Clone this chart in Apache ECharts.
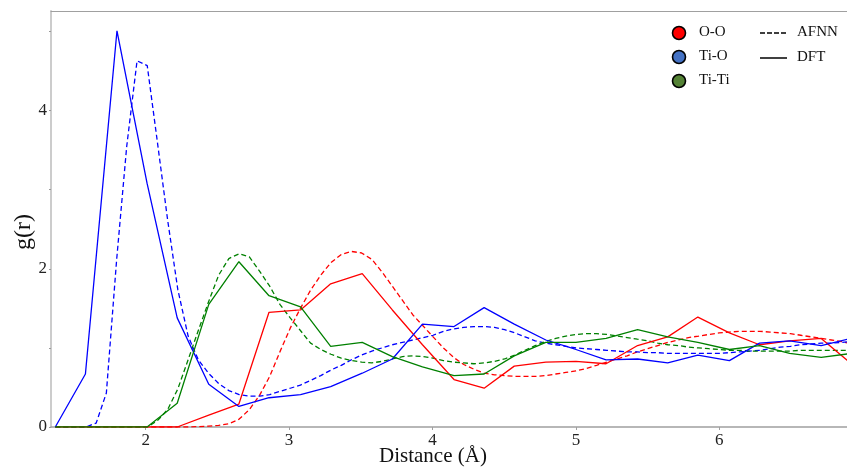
<!DOCTYPE html>
<html>
<head>
<meta charset="utf-8">
<script src="https://cdn.jsdelivr.net/npm/echarts@6/dist/echarts.min.js"></script>
<style>
html,body{margin:0;padding:0;background:#fff;}
#chart{width:847px;height:469px;}
</style>
</head>
<body>
<div id="chart"></div>
<script>
// ---- DATA ----
const distDFT = [1.37,1.58,1.80,2.01,2.22,2.44,2.65,2.86,3.08,3.29,3.51,3.72,3.93,4.15,4.36,4.57,4.79,5.00,5.21,5.43,5.64,5.85,6.07,6.28,6.49,6.71,6.92];
const OO_DFT   = [0,0,0,0,0,0.15,0.29,1.45,1.48,1.81,1.94,1.48,1.04,0.60,0.49,0.77,0.82,0.83,0.80,1.03,1.14,1.39,1.19,1.04,1.09,1.12,0.80];
const TiO_DFT  = [0,0.67,5.01,3.08,1.38,0.54,0.26,0.37,0.41,0.51,0.68,0.86,1.30,1.27,1.51,1.30,1.10,0.98,0.85,0.86,0.81,0.91,0.84,1.06,1.09,1.03,1.12];
const TiTi_DFT = [0,0,0,0,0.30,1.55,2.09,1.66,1.52,1.02,1.07,0.89,0.76,0.65,0.67,0.90,1.07,1.07,1.12,1.23,1.14,1.07,0.98,1.03,0.93,0.88,0.93];

const distAFNN = [1.370,1.441,1.512,1.584,1.655,1.726,1.797,1.868,1.940,2.011,2.082,2.153,2.224,2.296,2.367,2.438,2.509,2.580,2.652,2.723,
  2.794,2.865,2.936,3.008,3.079,3.150,3.221,3.292,3.364,3.435,3.506,3.577,3.648,3.720,3.791,3.862,3.933,4.004,4.076,4.147,
  4.218,4.289,4.360,4.432,4.503,4.574,4.645,4.716,4.788,4.859,4.930,5.001,5.072,5.144,5.215,5.286,5.357,5.428,5.500,5.571,
  5.642,5.713,5.784,5.856,5.927,5.998,6.069,6.140,6.212,6.283,6.354,6.425,6.496,6.568,6.639,6.710,6.781,6.852,6.924];
const OO_AFNN = [0,0,0,0,0,0,0,0,0,0,0,0,0,0,0.005,0.01,0.02,0.04,0.10,0.22,
  0.40,0.64,0.95,1.25,1.50,1.73,1.92,2.08,2.18,2.22,2.20,2.12,1.96,1.78,1.60,1.42,1.28,1.14,1.00,0.88,
  0.79,0.73,0.68,0.66,0.65,0.64,0.64,0.64,0.65,0.67,0.69,0.71,0.74,0.78,0.82,0.86,0.90,0.95,0.99,1.03,
  1.07,1.10,1.13,1.15,1.17,1.19,1.20,1.21,1.21,1.21,1.20,1.19,1.18,1.16,1.14,1.12,1.10,1.08,1.05];
const TiO_AFNN = [0,0,0,0,0.05,0.43,2.1,3.55,4.63,4.57,3.6,2.62,1.74,1.15,0.85,0.68,0.55,0.46,0.41,0.39,
  0.39,0.41,0.45,0.49,0.53,0.59,0.65,0.72,0.78,0.85,0.91,0.96,1.00,1.04,1.07,1.10,1.13,1.16,1.21,1.24,
  1.26,1.27,1.27,1.26,1.23,1.19,1.14,1.09,1.06,1.04,1.02,1.00,0.99,0.98,0.97,0.96,0.95,0.95,0.94,0.94,
  0.93,0.93,0.93,0.93,0.93,0.93,0.94,0.95,0.96,0.97,0.99,1.01,1.02,1.04,1.05,1.06,1.06,1.07,1.08];
const TiTi_AFNN = [0,0,0,0,0,0,0,0,0,0,0.08,0.22,0.48,0.85,1.22,1.58,1.92,2.13,2.19,2.15,
  1.97,1.78,1.55,1.38,1.22,1.06,0.98,0.92,0.87,0.84,0.82,0.81,0.83,0.86,0.89,0.90,0.89,0.87,0.84,0.82,
  0.81,0.80,0.81,0.83,0.86,0.91,0.97,1.03,1.08,1.12,1.15,1.17,1.18,1.18,1.17,1.15,1.13,1.11,1.09,1.06,
  1.04,1.03,1.01,1.00,0.99,0.98,0.97,0.97,0.96,0.96,0.96,0.96,0.96,0.97,0.97,0.97,0.97,0.97,0.97];

const xTicks = [2,3,4,5,6];
const yTicks = [0,1,2,3,4,5];
const yLabels = [0,2,4];

const legendPairs = ['O-O','Ti-O','Ti-Ti'];
const legendStyles = ['AFNN','DFT'];

// ---- CHART ----
const RED = '#ff0000', BLUE = '#0000ff', GREEN = '#008000';
const FONT = '"Liberation Serif", "Times New Roman", serif';
const zip = (xs, ys) => xs.map((x, i) => [x, ys[i]]);

function mk(name, xs, ys, color, dashed) {
  return {
    name: name, type: 'line', data: zip(xs, ys), showSymbol: false, symbol: 'none',
    clip: true, animation: false,
    lineStyle: { color: color, width: 1.3, type: dashed ? [5, 3] : 'solid' },
    itemStyle: { color: color }
  };
}

const chart = echarts.init(document.getElementById('chart'), null, { renderer: 'canvas' });
chart.setOption({
  backgroundColor: '#ffffff',
  animation: false,
  grid: { left: 51, right: 0, top: 11, bottom: 42, containLabel: false },
  xAxis: [{
    type: 'value', min: 1.34, max: 6.89,
    axisLine: { show: true, lineStyle: { color: '#a0a0a0', width: 1.5 } },
    axisTick: { show: true, length: 3, customValues: xTicks, lineStyle: { color: '#a0a0a0' } },
    axisLabel: { customValues: xTicks, color: '#222', fontFamily: FONT, fontSize: 17, margin: 5 },
    splitLine: { show: false }
  }, {
    type: 'value', min: 1.34, max: 6.89, position: 'top',
    axisLine: { show: true, lineStyle: { color: '#a0a0a0', width: 1 } },
    axisTick: { show: false }, axisLabel: { show: false }, splitLine: { show: false }
  }],
  yAxis: {
    type: 'value', min: 0, max: 5.26,
    axisLine: { show: true, lineStyle: { color: '#cccccc', width: 2 } },
    axisTick: { show: true, length: 2, customValues: yTicks, lineStyle: { color: '#999' } },
    axisLabel: { customValues: yLabels, color: '#222', fontFamily: FONT, fontSize: 17, margin: 4 },
    splitLine: { show: false }
  },
  series: [
    mk('O-O AFNN', distAFNN, OO_AFNN, RED, true),
    mk('Ti-O AFNN', distAFNN, TiO_AFNN, BLUE, true),
    mk('Ti-Ti AFNN', distAFNN, TiTi_AFNN, GREEN, true),
    mk('O-O DFT', distDFT, OO_DFT, RED, false),
    mk('Ti-O DFT', distDFT, TiO_DFT, BLUE, false),
    mk('Ti-Ti DFT', distDFT, TiTi_DFT, GREEN, false)
  ],
  graphic: [
    { type: 'text', left: 379, top: 446, style: { text: 'Distance (Å)', font: '21px ' + FONT, fill: '#111' } },
    { type: 'text', x: 12, y: 250, rotation: Math.PI / 2, style: { text: 'g(r)', font: '24px ' + FONT, fill: '#111' } },
    // legend: pair colours
    { type: 'circle', shape: { cx: 679, cy: 33, r: 6.5 }, style: { fill: '#ff0000', stroke: '#000', lineWidth: 1.6 } },
    { type: 'circle', shape: { cx: 679, cy: 57, r: 6.5 }, style: { fill: '#4472c4', stroke: '#000', lineWidth: 1.6 } },
    { type: 'circle', shape: { cx: 679, cy: 81, r: 6.5 }, style: { fill: '#548235', stroke: '#000', lineWidth: 1.6 } },
    { type: 'text', x: 699, y: 25, style: { text: legendPairs[0], font: '15px ' + FONT, fill: '#111' } },
    { type: 'text', x: 699, y: 49, style: { text: legendPairs[1], font: '15px ' + FONT, fill: '#111' } },
    { type: 'text', x: 699, y: 73, style: { text: legendPairs[2], font: '15px ' + FONT, fill: '#111' } },
    // legend: line styles
    { type: 'line', shape: { x1: 760, y1: 33, x2: 787, y2: 33 }, style: { stroke: '#000', lineWidth: 1.5, lineDash: [5, 2] } },
    { type: 'line', shape: { x1: 760, y1: 58, x2: 787, y2: 58 }, style: { stroke: '#000', lineWidth: 1.5 } },
    { type: 'text', x: 797, y: 25, style: { text: legendStyles[0], font: '15px ' + FONT, fill: '#111' } },
    { type: 'text', x: 797, y: 50, style: { text: legendStyles[1], font: '15px ' + FONT, fill: '#111' } }
  ]
});
</script>
</body>
</html>
